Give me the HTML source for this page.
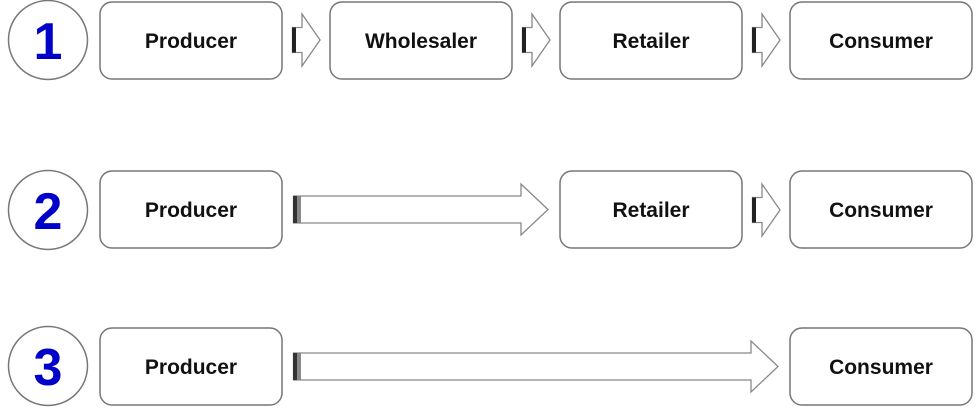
<!DOCTYPE html>
<html><head><style>
html,body{margin:0;padding:0;background:#fff;}
svg{display:block;}
</style></head><body>
<svg width="980" height="420" xmlns="http://www.w3.org/2000/svg" font-family="Liberation Sans, Arial, sans-serif">
<defs>
<g id="sa">
<path d="M0.5,-12.5 H10 V-26 L28,0 L10,26 V12.5 H0.5 Z" fill="#fff" stroke="#888" stroke-width="1.3"/>
<rect x="0" y="-12.5" width="4" height="25" fill="#222"/>
</g>
</defs>
<g fill="#fff" stroke="#777" stroke-width="1.5">
<circle cx="48" cy="40" r="39.5"/>
<circle cx="48" cy="210" r="39.5"/>
<circle cx="48" cy="366" r="39.5"/>
<rect x="100" y="2" width="182" height="77" rx="12"/>
<rect x="330" y="2" width="182" height="77" rx="12"/>
<rect x="560" y="2" width="182" height="77" rx="12"/>
<rect x="790" y="2" width="182" height="77" rx="12"/>
<rect x="100" y="171" width="182" height="77" rx="12"/>
<rect x="560" y="171" width="182" height="77" rx="12"/>
<rect x="790" y="171" width="182" height="77" rx="12"/>
<rect x="100" y="328" width="182" height="77" rx="12"/>
<rect x="790" y="328" width="182" height="77" rx="12"/>
</g>
<use href="#sa" x="292" y="40"/>
<use href="#sa" x="522" y="40"/>
<use href="#sa" x="752" y="40"/>
<use href="#sa" x="752" y="210"/>
<path d="M293.5,196 H521 V184 L548,209.5 L521,235 V223 H293.5 Z" fill="#fff" stroke="#888" stroke-width="1.3"/>
<rect x="293" y="196" width="4" height="27" fill="#333"/><rect x="297" y="196" width="4" height="27" fill="#888"/>
<path d="M293.5,353 H751 V341 L778,366.5 L751,392 V380 H293.5 Z" fill="#fff" stroke="#888" stroke-width="1.3"/>
<rect x="293" y="353" width="4" height="27" fill="#333"/><rect x="297" y="353" width="4" height="27" fill="#888"/>
<g fill="#0000c8" font-weight="bold" font-size="52" text-anchor="middle">
<text x="48" y="59">1</text>
<text x="48" y="229">2</text>
<text x="48" y="385">3</text>
</g>
<g fill="#111" font-weight="bold" font-size="21" text-anchor="middle">
<text x="191" y="48">Producer</text>
<text x="421" y="48">Wholesaler</text>
<text x="651" y="48">Retailer</text>
<text x="881" y="48">Consumer</text>
<text x="191" y="217">Producer</text>
<text x="651" y="217">Retailer</text>
<text x="881" y="217">Consumer</text>
<text x="191" y="374">Producer</text>
<text x="881" y="374">Consumer</text>
</g>
</svg>
</body></html>
